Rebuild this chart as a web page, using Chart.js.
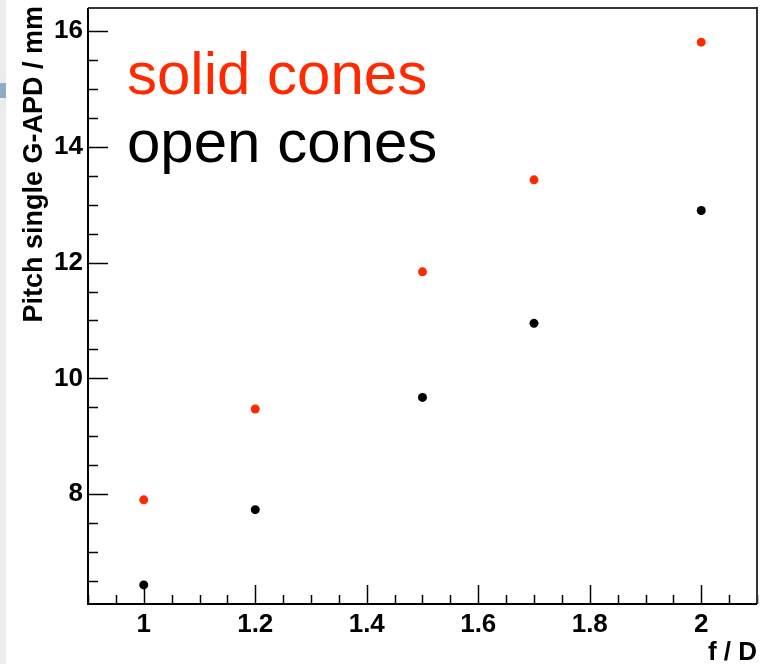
<!DOCTYPE html>
<html>
<head>
<meta charset="utf-8">
<script src="https://cdn.jsdelivr.net/npm/chart.js@4.4.1/dist/chart.umd.min.js"></script>
<style>
  html, body { margin: 0; padding: 0; background: #ffffff; }
  #wrap { width: 769px; height: 664px; position: relative; }
</style>
</head>
<body>
<div id="wrap"><canvas id="c" width="769" height="664"></canvas></div>
<script>
// f/D ratio of the light concentrator
const categories = [1, 1.2, 1.5, 1.7, 2];
// pitch of a single G-APD (mm)
const solidCones = [7.90, 9.47, 11.84, 13.43, 15.81];
const openCones  = [6.43, 7.73, 9.67, 10.95, 12.90];

const seriesNames = ['solid cones', 'open cones'];

const xTickValues = [1, 1.2, 1.4, 1.6, 1.8, 2];
const xTickLabels = ['1', '1.2', '1.4', '1.6', '1.8', '2'];
const yTickValues = [8, 10, 12, 14, 16];
const yTickLabels = ['8', '10', '12', '14', '16'];

const RED = '#ff2a00';
const FONT = '"Liberation Sans", Arial, Helvetica, sans-serif';

function toPoints(xs, ys) { return xs.map((x, i) => ({ x: x, y: ys[i] })); }

// Page background, frame, inner tick marks, axis titles and the text legend
const framePlugin = {
  id: 'frame',
  beforeDraw(chart) {
    const ctx = chart.ctx;
    ctx.save();
    ctx.fillStyle = '#ffffff';
    ctx.fillRect(0, 0, chart.width, chart.height);
    ctx.fillStyle = '#ececec';
    ctx.fillRect(0, 0, 6, chart.height);
    ctx.fillStyle = '#8fabc6';
    ctx.fillRect(0, 83, 6, 15);
    ctx.restore();
  },
  beforeDatasetsDraw(chart) {
    const ctx = chart.ctx;
    const a = chart.chartArea;
    const xs = chart.scales.x, ys = chart.scales.y;
    ctx.save();
    ctx.strokeStyle = '#000000';
    ctx.lineWidth = 1.5;
    // x ticks: minor every 0.05, major every 0.2
    for (let k = 18; k <= 42; k++) {
      const v = k * 0.05;
      if (v < xs.min - 1e-9 || v > xs.max + 1e-9) continue;
      const major = (k % 4 === 0);
      const px = Math.round(xs.getPixelForValue(v)) + 0.5;
      ctx.beginPath();
      ctx.moveTo(px, a.bottom);
      ctx.lineTo(px, a.bottom - (major ? 19 : 9));
      ctx.stroke();
    }
    // y ticks: minor every 0.5, major every 2
    for (let k = 12; k <= 33; k++) {
      const v = k * 0.5;
      if (v < ys.min - 1e-9 || v > ys.max + 1e-9) continue;
      const major = (k % 4 === 0);
      const py = Math.round(ys.getPixelForValue(v)) + 0.5;
      ctx.beginPath();
      ctx.moveTo(a.left, py);
      ctx.lineTo(a.left + (major ? 20 : 10), py);
      ctx.stroke();
    }
    // top and right frame
    ctx.strokeStyle = '#333333';
    ctx.lineWidth = 2;
    ctx.beginPath();
    ctx.moveTo(a.left, a.top);
    ctx.lineTo(a.right, a.top);
    ctx.lineTo(a.right, a.bottom);
    ctx.stroke();
    // left and bottom axes
    ctx.strokeStyle = '#000000';
    ctx.beginPath();
    ctx.moveTo(a.left, a.top);
    ctx.lineTo(a.left, a.bottom);
    ctx.lineTo(a.right, a.bottom);
    ctx.stroke();
    ctx.restore();
  },
  afterDraw(chart) {
    const ctx = chart.ctx;
    const a = chart.chartArea;
    ctx.save();
    // legend text
    ctx.textAlign = 'left';
    ctx.textBaseline = 'alphabetic';
    ctx.font = '60px ' + FONT;
    ctx.fillStyle = RED;
    ctx.fillText(seriesNames[0], 127, 94);
    ctx.fillStyle = '#000000';
    ctx.fillText(seriesNames[1], 127, 162);
    // x axis title
    ctx.font = 'bold 26px ' + FONT;
    ctx.textAlign = 'right';
    ctx.fillText('f / D', a.right, 660);
    // y axis title
    ctx.translate(42, 6);
    ctx.rotate(-Math.PI / 2);
    ctx.font = 'bold 27px ' + FONT;
    ctx.textAlign = 'right';
    ctx.fillText('Pitch single G-APD / mm', 0, 0);
    ctx.restore();
  }
};

new Chart(document.getElementById('c'), {
  type: 'scatter',
  data: {
    datasets: [
      {
        label: seriesNames[0],
        data: toPoints(categories, solidCones),
        backgroundColor: RED,
        borderColor: RED,
        pointRadius: 4.5,
        borderWidth: 0
      },
      {
        label: seriesNames[1],
        data: toPoints(categories, openCones),
        backgroundColor: '#000000',
        borderColor: '#000000',
        pointRadius: 4.5,
        borderWidth: 0
      }
    ]
  },
  options: {
    responsive: false,
    animation: false,
    events: [],
    layout: { padding: { left: 0, right: 12, top: 8, bottom: 0 } },
    plugins: {
      legend: { display: false },
      title: { display: false },
      tooltip: { enabled: false }
    },
    scales: {
      x: {
        type: 'linear',
        min: 0.9,
        max: 2.1,
        grid: { display: false, drawTicks: false },
        border: { display: false },
        afterBuildTicks(scale) { scale.ticks = xTickValues.map(v => ({ value: v })); },
        afterFit(scale) {
          scale.height = 60;
          scale.paddingLeft = 0;
          scale.paddingRight = 0;
        },
        ticks: {
          padding: 5,
          maxRotation: 0,
          autoSkip: false,
          color: '#000000',
          font: { family: FONT, size: 26, weight: 'bold' },
          callback: (value, index) => xTickLabels[index]
        }
      },
      y: {
        type: 'linear',
        min: 6.1,
        max: 16.4,
        grid: { display: false, drawTicks: false },
        border: { display: false },
        afterBuildTicks(scale) { scale.ticks = yTickValues.map(v => ({ value: v })); },
        afterFit(scale) {
          scale.width = 88;
          scale.paddingTop = 0;
          scale.paddingBottom = 0;
        },
        ticks: {
          padding: 5,
          autoSkip: false,
          color: '#000000',
          font: { family: FONT, size: 26, weight: 'bold' },
          callback: (value, index) => yTickLabels[index]
        }
      }
    }
  },
  plugins: [framePlugin]
});
</script>
</body>
</html>
